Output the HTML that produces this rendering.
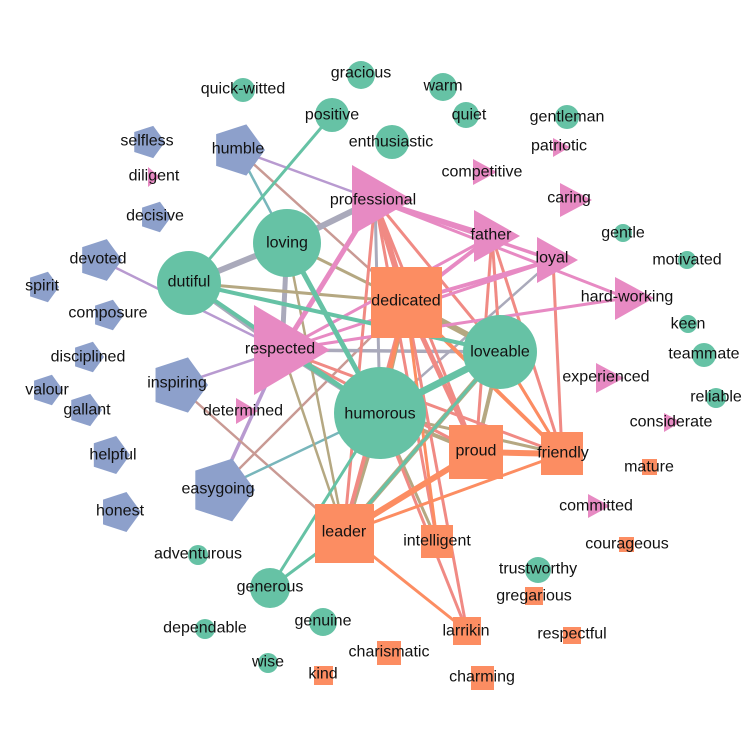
<!DOCTYPE html>
<html><head><meta charset="utf-8"><style>
html,body{margin:0;padding:0;background:#fff;}
svg{display:block;}
text{font-family:"Liberation Sans",Arial,sans-serif;font-size:16px;fill:#111;text-anchor:middle;dominant-baseline:central;}
</style></head><body>
<svg width="754" height="754" viewBox="0 0 754 754" xmlns="http://www.w3.org/2000/svg">
<defs>
<polygon id="pg" points="1,0 0.309,0.951 -0.809,0.588 -0.809,-0.588 0.309,-0.951"/>
</defs>
<g fill="none" stroke-linecap="butt">
<g stroke="#b89ad0" stroke-width="2.5">
<line x1="238" y1="150" x2="375" y2="200"/>
<line x1="100" y1="260" x2="282" y2="350"/>
<line x1="177" y1="385" x2="282" y2="350"/>
<line x1="218" y1="490" x2="282" y2="350" stroke-width="3.5"/>
</g>
<g stroke="#c99a94" stroke-width="2.5">
<line x1="238" y1="150" x2="406" y2="302"/>
<line x1="218" y1="490" x2="406" y2="302"/>
<line x1="177" y1="385" x2="344" y2="533"/>
</g>
<g stroke="#78b6bb" stroke-width="2.5">
<line x1="238" y1="150" x2="287" y2="243"/>
<line x1="218" y1="490" x2="380" y2="413"/>
</g>
<g stroke="#aaaabb">
<line x1="189" y1="283" x2="287" y2="243" stroke-width="6"/>
<line x1="287" y1="243" x2="375" y2="200" stroke-width="6"/>
<line x1="189" y1="283" x2="282" y2="350" stroke-width="5"/>
<line x1="287" y1="243" x2="282" y2="350" stroke-width="5"/>
<line x1="282" y1="350" x2="500" y2="352" stroke-width="3.5"/>
<line x1="375" y1="200" x2="380" y2="413" stroke-width="3"/>
<line x1="553" y1="260" x2="380" y2="413" stroke-width="2.5"/>
<line x1="282" y1="350" x2="380" y2="413" stroke-width="5"/>
</g>
<g stroke="#b5a882">
<line x1="189" y1="283" x2="406" y2="302" stroke-width="3"/>
<line x1="287" y1="243" x2="406" y2="302" stroke-width="3"/>
<line x1="287" y1="243" x2="344" y2="533" stroke-width="2.5"/>
<line x1="282" y1="350" x2="344" y2="533" stroke-width="2.5"/>
<line x1="406" y1="302" x2="500" y2="352" stroke-width="6"/>
<line x1="406" y1="302" x2="380" y2="413" stroke-width="6"/>
<line x1="500" y1="352" x2="476" y2="452" stroke-width="4"/>
<line x1="380" y1="413" x2="476" y2="452" stroke-width="4"/>
<line x1="380" y1="413" x2="562" y2="454" stroke-width="3"/>
<line x1="380" y1="413" x2="437" y2="541" stroke-width="3"/>
<line x1="380" y1="413" x2="344" y2="533" stroke-width="6"/>
<line x1="500" y1="352" x2="344" y2="533" stroke-width="5"/>
</g>
<g stroke="#f08a84" stroke-width="3">
<line x1="375" y1="200" x2="406" y2="302" stroke-width="6"/>
<line x1="375" y1="200" x2="476" y2="452"/>
<line x1="375" y1="200" x2="344" y2="533"/>
<line x1="375" y1="200" x2="500" y2="352"/>
<line x1="375" y1="200" x2="437" y2="541"/>
<line x1="282" y1="350" x2="476" y2="452"/>
<line x1="282" y1="350" x2="562" y2="454"/>
<line x1="492" y1="236" x2="500" y2="352"/>
<line x1="492" y1="236" x2="476" y2="452"/>
<line x1="492" y1="236" x2="562" y2="454"/>
<line x1="553" y1="260" x2="562" y2="454"/>
<line x1="406" y1="302" x2="476" y2="452" stroke-width="5"/>
<line x1="406" y1="302" x2="467" y2="631"/>
<line x1="406" y1="302" x2="344" y2="533" stroke-width="4"/>
<line x1="380" y1="413" x2="467" y2="631"/>
<line x1="500" y1="352" x2="562" y2="454"/>
</g>
<g stroke="#fc8d62" stroke-width="3">
<line x1="406" y1="302" x2="562" y2="454" stroke-width="4"/>
<line x1="406" y1="302" x2="437" y2="541"/>
<line x1="344" y1="533" x2="476" y2="452" stroke-width="6"/>
<line x1="344" y1="533" x2="562" y2="454"/>
<line x1="344" y1="533" x2="467" y2="631"/>
<line x1="476" y1="452" x2="562" y2="454" stroke-width="6"/>
<line x1="406" y1="302" x2="380" y2="413" stroke-width="4"/>
<line x1="500" y1="352" x2="562" y2="454" stroke-width="3"/>
</g>
<g stroke="#e78ac3" stroke-width="3">
<line x1="282" y1="350" x2="375" y2="200" stroke-width="5"/>
<line x1="282" y1="350" x2="492" y2="236"/>
<line x1="282" y1="350" x2="553" y2="260"/>
<line x1="282" y1="350" x2="627" y2="298"/>
<line x1="375" y1="200" x2="492" y2="236" stroke-width="4"/>
<line x1="375" y1="200" x2="553" y2="260" stroke-width="3.5"/>
<line x1="375" y1="200" x2="627" y2="298"/>
<line x1="406" y1="302" x2="492" y2="236" stroke-width="4"/>
<line x1="406" y1="302" x2="553" y2="260" stroke-width="4"/>
</g>
<g stroke="#66c2a5">
<line x1="332" y1="115" x2="189" y2="283" stroke-width="3"/>
<line x1="189" y1="283" x2="500" y2="352" stroke-width="4"/>
<line x1="287" y1="243" x2="380" y2="413" stroke-width="5"/>
<line x1="189" y1="283" x2="380" y2="413" stroke-width="4"/>
<line x1="500" y1="352" x2="380" y2="413" stroke-width="7"/>
<line x1="500" y1="352" x2="344" y2="533" stroke-width="3"/>
<line x1="270" y1="588" x2="344" y2="533" stroke-width="3"/>
<line x1="270" y1="588" x2="380" y2="413" stroke-width="3"/>
<line x1="282" y1="350" x2="380" y2="413" stroke-width="3"/>
</g>
</g>
<g fill="#8da0cb">
<use href="#pg" transform="translate(238,150) scale(27)"/>
<use href="#pg" transform="translate(148,142) scale(17)"/>
<use href="#pg" transform="translate(155,217) scale(16)"/>
<use href="#pg" transform="translate(100,260) scale(22)"/>
<use href="#pg" transform="translate(43,287) scale(16)"/>
<use href="#pg" transform="translate(108,315) scale(16)"/>
<use href="#pg" transform="translate(88,357) scale(16)"/>
<use href="#pg" transform="translate(47,390) scale(16)"/>
<use href="#pg" transform="translate(85,410) scale(17)"/>
<use href="#pg" transform="translate(110,455) scale(20)"/>
<use href="#pg" transform="translate(120,512) scale(21)"/>
<use href="#pg" transform="translate(179,385) scale(29)"/>
<use href="#pg" transform="translate(222,490) scale(33)"/>
</g>
<g fill="#66c2a5">
<circle cx="243" cy="90" r="12"/>
<circle cx="361" cy="75" r="14"/>
<circle cx="443" cy="87" r="14"/>
<circle cx="466" cy="115" r="13"/>
<circle cx="332" cy="115" r="17"/>
<circle cx="392" cy="142" r="17"/>
<circle cx="567" cy="117" r="12"/>
<circle cx="623" cy="233" r="9"/>
<circle cx="687" cy="260" r="9"/>
<circle cx="688" cy="324" r="9"/>
<circle cx="704" cy="355" r="12"/>
<circle cx="716" cy="398" r="10"/>
<circle cx="538" cy="570" r="13"/>
<circle cx="198" cy="555" r="10"/>
<circle cx="270" cy="588" r="20"/>
<circle cx="323" cy="622" r="14"/>
<circle cx="205" cy="629" r="10"/>
<circle cx="268" cy="663" r="10"/>
<circle cx="287" cy="243" r="34"/>
<circle cx="189" cy="283" r="32"/>
<circle cx="500" cy="352" r="37"/>
<circle cx="380" cy="413" r="46"/>
</g>
<g fill="#fc8d62">
<rect x="371" y="267" width="71" height="71"/>
<rect x="449" y="425" width="54" height="54"/>
<rect x="541" y="432" width="42" height="43"/>
<rect x="315" y="504" width="59" height="59"/>
<rect x="421" y="525" width="32" height="33"/>
<rect x="453" y="617" width="28" height="28"/>
<rect x="377" y="641" width="24" height="24"/>
<rect x="471" y="666" width="23" height="24"/>
<rect x="314" y="666" width="19" height="19"/>
<rect x="642" y="459" width="15" height="16"/>
<rect x="619" y="537" width="15" height="15"/>
<rect x="525" y="587" width="18" height="18"/>
<rect x="563" y="627" width="18" height="17"/>
</g>
<g fill="#e78ac3">
<polygon points="352,165 352,235 413,200"/>
<polygon points="474,210 474,262 520,236"/>
<polygon points="537,237 537,283 578,260"/>
<polygon points="254,305 254,395 330,350"/>
<polygon points="473,159 473,185 497,172"/>
<polygon points="560,183 560,217 592,200"/>
<polygon points="553,138 553,157 570,147"/>
<polygon points="148,167 148,187 160,177"/>
<polygon points="615,277 615,320 654,298"/>
<polygon points="596,363 596,393 624,378"/>
<polygon points="664,413 664,432 681,422"/>
<polygon points="588,494 588,518 610,506"/>
<polygon points="236,398 236,424 258,411"/>
</g>
<g>
<text x="243" y="89">quick-witted</text>
<text x="361" y="73">gracious</text>
<text x="443" y="86">warm</text>
<text x="469" y="115">quiet</text>
<text x="332" y="115">positive</text>
<text x="391" y="142">enthusiastic</text>
<text x="567" y="117">gentleman</text>
<text x="559" y="146">patriotic</text>
<text x="482" y="172">competitive</text>
<text x="569" y="198">caring</text>
<text x="623" y="233">gentle</text>
<text x="687" y="260">motivated</text>
<text x="627" y="297">hard-working</text>
<text x="688" y="324">keen</text>
<text x="704" y="354">teammate</text>
<text x="606" y="377">experienced</text>
<text x="716" y="397">reliable</text>
<text x="671" y="422">considerate</text>
<text x="649" y="467">mature</text>
<text x="596" y="506">committed</text>
<text x="627" y="544">courageous</text>
<text x="538" y="569">trustworthy</text>
<text x="534" y="596">gregarious</text>
<text x="572" y="634">respectful</text>
<text x="147" y="141">selfless</text>
<text x="238" y="149">humble</text>
<text x="154" y="176">diligent</text>
<text x="155" y="216">decisive</text>
<text x="98" y="259">devoted</text>
<text x="42" y="286">spirit</text>
<text x="108" y="313">composure</text>
<text x="88" y="357">disciplined</text>
<text x="47" y="390">valour</text>
<text x="87" y="410">gallant</text>
<text x="113" y="455">helpful</text>
<text x="120" y="511">honest</text>
<text x="177" y="383">inspiring</text>
<text x="218" y="489">easygoing</text>
<text x="243" y="411">determined</text>
<text x="373" y="200">professional</text>
<text x="287" y="243">loving</text>
<text x="189" y="282">dutiful</text>
<text x="491" y="235">father</text>
<text x="552" y="258">loyal</text>
<text x="406" y="301">dedicated</text>
<text x="280" y="349">respected</text>
<text x="500" y="352">loveable</text>
<text x="380" y="414">humorous</text>
<text x="476" y="451">proud</text>
<text x="563" y="453">friendly</text>
<text x="344" y="532">leader</text>
<text x="437" y="541">intelligent</text>
<text x="198" y="554">adventurous</text>
<text x="270" y="587">generous</text>
<text x="323" y="621">genuine</text>
<text x="205" y="628">dependable</text>
<text x="466" y="631">larrikin</text>
<text x="389" y="652">charismatic</text>
<text x="268" y="662">wise</text>
<text x="323" y="674">kind</text>
<text x="482" y="677">charming</text>
</g>
</svg>
</body></html>
